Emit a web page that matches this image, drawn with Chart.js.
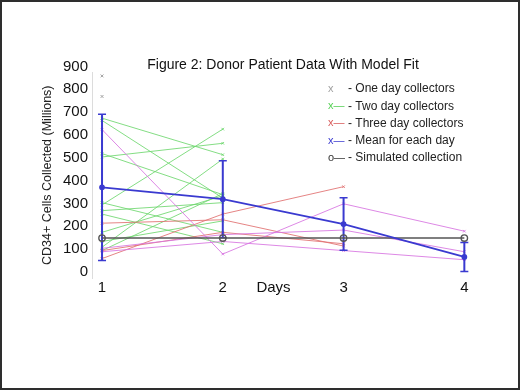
<!DOCTYPE html>
<html><head><meta charset="utf-8">
<script src="https://cdn.jsdelivr.net/npm/chart.js@4"></script>
<style>
html,body{margin:0;padding:0;background:#fff}
#wrap{position:relative;width:520px;height:390px}
#frame{position:absolute;left:0;top:0;width:520px;height:390px;box-sizing:border-box;border:2px solid #2e2e2e;pointer-events:none}
</style></head><body>
<div id="wrap"><canvas id="c" width="520" height="390"></canvas><div id="frame"></div></div>
<script>
// ---- data ----
const days = [1, 2, 3, 4];
const oneDayCollectors = [885, 795];                 // day 1 only
const twoDayCollectors = [
  [700, 540], [690, 350], [545, 365], [530, 590], [320, 652], [135, 521],
  [120, 370], [330, 200], [295, 330], [280, 150], [200, 360], [160, 250]
];
const threeDayCollectors = [
  [85, 280, 400], [240, 255, 140], [120, 200, 150]
];
const fourDayCollectors = [
  [650, 105, 325, 205], [130, 190, 210, 115], [115, 160, 120, 80]
];
const meanValues = [397, 345, 236, 92];
const meanSD = [320, 169, 115, 64];
const simulated = [175, 175, 175, 175];
const yTickValues = [0, 100, 200, 300, 400, 500, 600, 700, 800, 900];
const xTickValues = [1, 2, 2.42, 3, 4];
const xTickLabels = ['1', '2', 'Days', '3', '4'];
const titleText = 'Figure 2: Donor Patient Data With Model Fit';
const yTitleText = 'CD34+ Cells Collected (Millions)';
const legendMarkers = ['x', 'x\u2014', 'x\u2014', 'x\u2014', 'o\u2014'];
const legendTexts = ['- One day collectors', '- Two day collectors', '- Three day collectors', '- Mean for each day', '- Simulated collection'];

// ---- styles ----
const FONT = '"Liberation Sans", Arial, Helvetica, sans-serif';
const C_GRAY = '#a0a0a0', C_GREEN = 'rgba(110,215,110,0.85)', C_RED = 'rgba(225,110,110,0.85)',
      C_MAG = 'rgba(215,115,225,0.85)', C_BLUE = '#3a3ad0', C_BLACK = '#555555';
const legendColors = [C_GRAY, '#55d055', '#d85a5a', C_BLUE, '#333'];

const pts = (vals) => vals.map((v, i) => ({x: days[i], y: v}));
const datasets = [];
datasets.push({data: pts(meanValues), borderColor: C_BLUE, backgroundColor: C_BLUE, borderWidth: 1.8,
  pointRadius: 2, pointStyle: 'circle'});
datasets.push({data: pts(simulated), borderColor: C_BLACK, backgroundColor: 'rgba(0,0,0,0)', borderWidth: 1.6,
  pointRadius: 3.2, pointBorderWidth: 1.4, pointStyle: 'circle'});
meanValues.forEach((m, i) => {
  datasets.push({data: [{x: days[i], y: m - meanSD[i]}, {x: days[i], y: m + meanSD[i]}],
    borderColor: C_BLUE, borderWidth: 2, pointStyle: 'line', pointRadius: 4, pointBorderWidth: 1.5});
});
oneDayCollectors.forEach(v => {
  datasets.push({data: [{x: days[0], y: v}], showLine: false, borderColor: C_GRAY,
    pointStyle: 'crossRot', pointRadius: 2, pointBorderWidth: 1});
});
[[fourDayCollectors, C_MAG], [threeDayCollectors, C_RED], [twoDayCollectors, C_GREEN]].forEach(([group, col]) => {
  group.forEach(vals => {
    datasets.push({data: pts(vals), borderColor: col, backgroundColor: col, borderWidth: 1,
      pointStyle: 'crossRot', pointRadius: 1.8, pointBorderWidth: 1});
  });
});

const legendPlugin = {
  id: 'insideLegend',
  afterDraw(chart) {
    const ctx = chart.ctx, a = chart.chartArea;
    ctx.save();
    ctx.textBaseline = 'middle';
    legendTexts.forEach((t, i) => {
      const y = a.top + 16.5 + i * 17.2;
      const x = a.left + 236;
      ctx.font = '11px ' + FONT;
      ctx.fillStyle = legendColors[i];
      ctx.textAlign = 'left';
      ctx.fillText(legendMarkers[i], x, y);
      ctx.fillStyle = '#222';
      ctx.font = '12px ' + FONT;
      ctx.fillText(t, x + 20, y);
    });
    ctx.restore();
  }
};

new Chart(document.getElementById('c'), {
  type: 'line',
  data: {datasets},
  plugins: [legendPlugin],
  options: {
    responsive: false, devicePixelRatio: 1, animation: false,
    layout: {padding: {left: 38, top: 58.5, right: 46, bottom: 92}},
    plugins: {
      legend: {display: false}, tooltip: {enabled: false},
      title: {display: true, text: titleText, fullSize: false, color: '#111',
        font: {family: FONT, size: 14, weight: 'normal', lineHeight: 1}, padding: 0}
    },
    scales: {
      x: {type: 'linear', min: 0.917, max: 4.08,
        grid: {display: false, drawTicks: false}, border: {display: false},
        afterBuildTicks: s => { s.ticks = xTickValues.map(v => ({value: v})); },
        afterFit: s => { s.height = 20; },
        ticks: {callback: (v) => xTickLabels[xTickValues.indexOf(v)], color: '#111', padding: 1,
          maxRotation: 0, autoSkip: false, font: {family: FONT, size: 15}}},
      y: {min: 0, max: 900,
        grid: {display: false, drawTicks: false}, border: {display: true, color: '#dcdcdc', width: 1},
        afterBuildTicks: s => { s.ticks = yTickValues.map(v => ({value: v})); },
        afterFit: s => { s.width = 54; },
        ticks: {color: '#111', padding: 4, labelOffset: -6, font: {family: FONT, size: 15}},
        title: {display: true, text: yTitleText, color: '#222', font: {family: FONT, size: 12.5}, padding: {top: 2, bottom: 0}}}
    }
  }
});
</script>
</body></html>
